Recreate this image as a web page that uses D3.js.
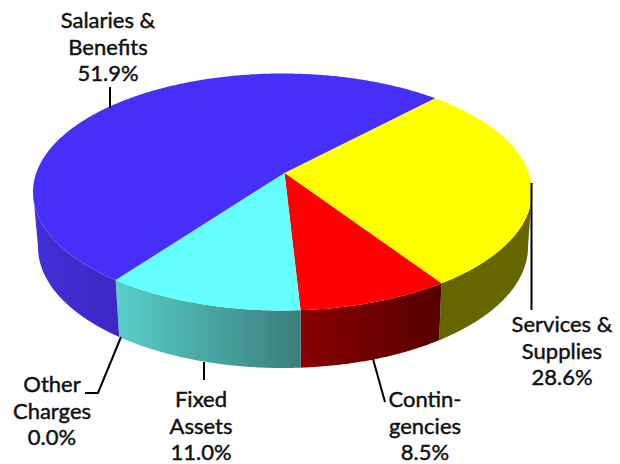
<!DOCTYPE html>
<html>
<head>
<meta charset="utf-8">
<script src="https://cdnjs.cloudflare.com/ajax/libs/d3/7.8.5/d3.min.js"></script>
<style>
html,body{margin:0;padding:0;background:#fff;}
svg{display:block;}
text{font-family:Lato,"Open Sans",sans-serif;font-size:22px;fill:#111;stroke:#111;stroke-width:.45px;text-anchor:middle;}
</style>
</head>
<body>
<div id="chart"></div>
<script>
// values
var categories = ["Services & Supplies", "Contingencies", "Fixed Assets", "Other Charges", "Salaries & Benefits"];
var shares = [28.6, 8.5, 11.0, 0.0, 51.9];
var labelLines = [["Services &", "Supplies"], ["Contin-", "gencies"], ["Fixed", "Assets"], ["Other", "Charges"], ["Salaries &", "Benefits"]];
var topColors = ["#ffff00", "#ff0000", "#66ffff", "#66ffff", "#4630f8"];
var wallFrom = ["#666600", "#880000", "#58cfca", "#58cfca", "#4230d8"];
var wallTo = ["#666600", "#560000", "#3b7d7b", "#3b7d7b", "#3c28c4"];

// where the callouts sit
var labelX = [562, 425, 201, 52, 108];
var labelY = [332, 407, 407, 392, 28];
var leaders = [
	[[531.5, 183], [531.5, 310]],
	[[373, 359], [385, 402]],
	[[204, 362], [204, 380]],
	[[121, 337], [98, 393], [85, 393]],
	[[110, 87], [110, 108]]
];

var width = 620, height = 464, lineGap = 26.6;
var startDeg = 43.3;
var visibleFrom = 99, visibleTo = 261; // part of the rim that faces the viewer, degrees

var topEllipse = {cx: 282.5, cy: 192, rx: 249.5, ry: 118.5};
var bottomEllipse = {cx: 283, cy: 247, rx: 245, ry: 121};
var tilt = -0.16; // moves the pie centre off the ellipse centre
var lean = 0.008;

var svg = d3.select("#chart").append("svg").attr("width", width).attr("height", height);
var defs = svg.append("defs");

var xScale = d3.scaleLinear().domain([-1, 1]);
var yScale = d3.scaleLinear().domain([-1, 1]);

// point of the disc at angle a (radians, clockwise from the top), r=0 is the centre
function project(ell, a, r){
	var u = r * Math.sin(a), v = -r * Math.cos(a);
	var w = 1 + tilt * v;
	var X = u * Math.sqrt(1 - tilt * tilt) / w;
	var Y = (v + tilt) / w;
	var w2 = 1 + lean * X;
	var X2 = (X + lean) / w2;
	var Y2 = Y * Math.sqrt(1 - lean * lean) / w2;
	xScale.range([ell.cx - ell.rx, ell.cx + ell.rx]);
	yScale.range([ell.cy - ell.ry, ell.cy + ell.ry]);
	return [xScale(X2), yScale(Y2)];
}

function rim(ell, a0, a1){
	var n = Math.max(2, Math.ceil(Math.abs(a1 - a0) / 0.01));
	return d3.range(n + 1).map(function(i){
		return project(ell, a0 + (a1 - a0) * i / n, 1);
	});
}

var line = d3.line();
var pie = d3.pie().sort(null).value(function(d){ return d; })
	.startAngle(startDeg * Math.PI / 180)
	.endAngle((startDeg + 360) * Math.PI / 180);
var slices = pie(shares);
var loFrom = visibleFrom * Math.PI / 180, loTo = visibleTo * Math.PI / 180;

// side walls first, the top faces cover what is left
slices.forEach(function(s, i){
	var a0 = Math.max(s.startAngle, loFrom), a1 = Math.min(s.endAngle, loTo);
	if(a1 <= a0) return;
	var top = rim(topEllipse, a0, a1), bottom = rim(bottomEllipse, a1, a0);
	var gid = "wall" + i;
	var xs = top.concat(bottom).map(function(p){ return p[0]; });
	var grad = defs.append("linearGradient").attr("id", gid)
		.attr("gradientUnits", "userSpaceOnUse")
		.attr("x1", d3.min(xs)).attr("x2", d3.max(xs)).attr("y1", 0).attr("y2", 0);
	grad.append("stop").attr("offset", 0).attr("stop-color", wallFrom[i]);
	grad.append("stop").attr("offset", 1).attr("stop-color", wallTo[i]);
	svg.append("path").attr("d", line(top.concat(bottom)) + "Z").attr("fill", "url(#" + gid + ")");
});

// top faces
slices.forEach(function(s, i){
	if(s.value === 0) return;
	var pts = [project(topEllipse, 0, 0)].concat(rim(topEllipse, s.startAngle, s.endAngle));
	svg.append("path").attr("d", line(pts) + "Z").attr("fill", topColors[i]);
});

// leaders
leaders.forEach(function(l){
	svg.append("path").attr("d", line(l)).attr("fill", "none").attr("stroke", "#000").attr("stroke-width", 2);
});

// labels
categories.forEach(function(c, i){
	var rows = labelLines[i].concat([shares[i].toFixed(1) + "%"]);
	rows.forEach(function(t, j){
		svg.append("text").attr("x", labelX[i]).attr("y", labelY[i] + j * lineGap).text(t);
	});
});
</script>
</body>
</html>
